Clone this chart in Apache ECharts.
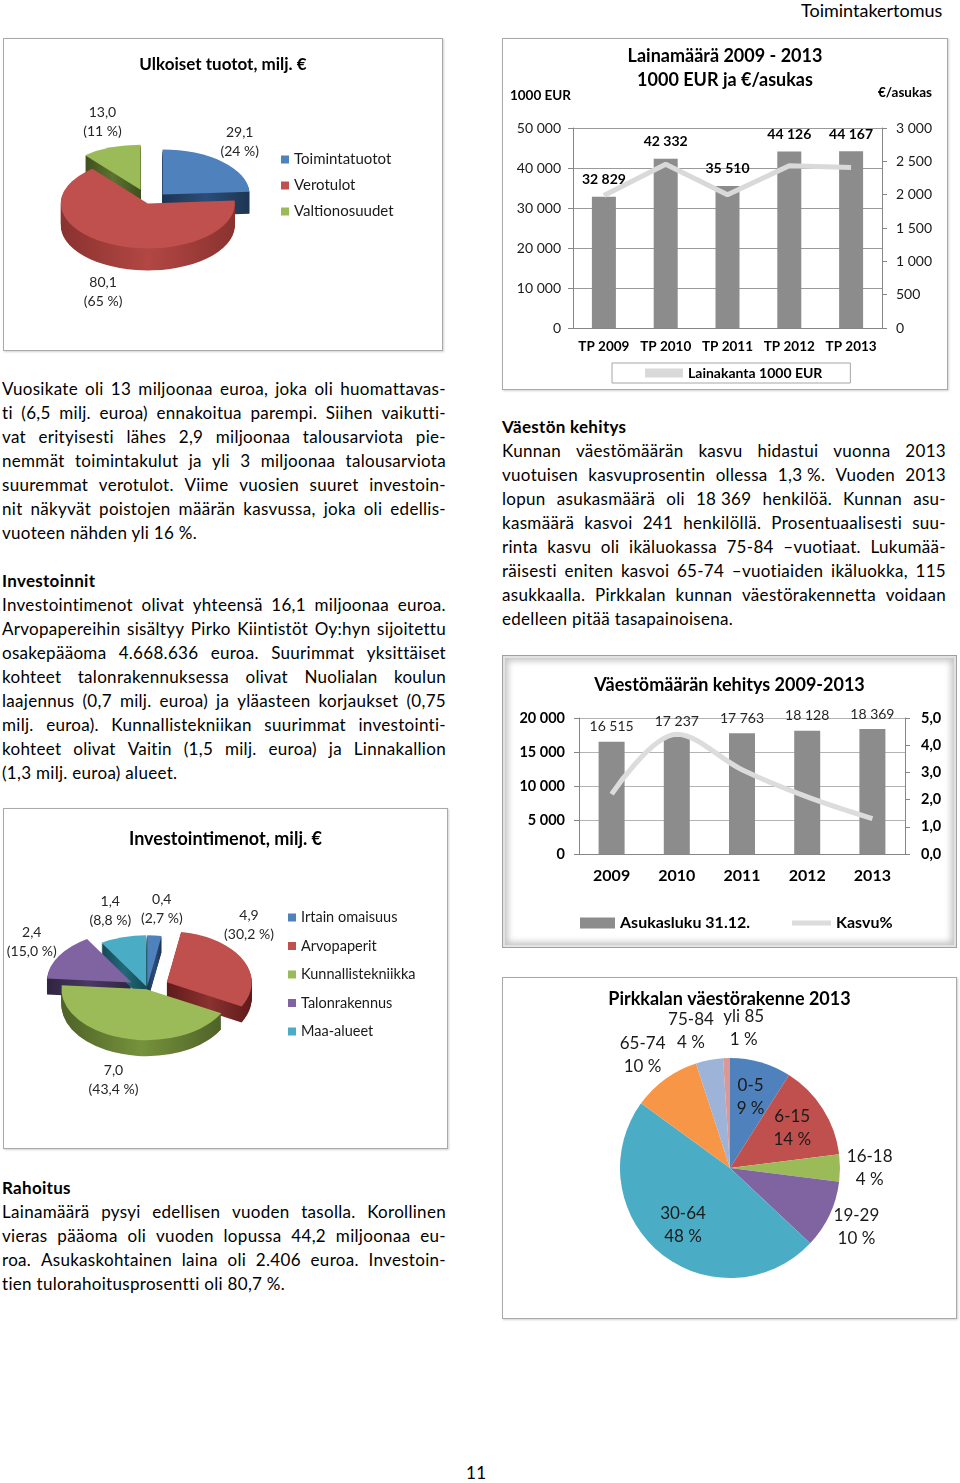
<!DOCTYPE html>
<html>
<head>
<meta charset="utf-8">
<script src="https://cdn.jsdelivr.net/npm/echarts@6/dist/echarts.min.js"></script>
<style>
  body { margin: 0; background: #fff; }
  #page { position: relative; width: 960px; height: 1483px; font-family: Lato, 'Open Sans', sans-serif; color: #000; overflow: hidden; }
  .box { position: absolute; box-sizing: border-box; border: 1px solid #a9a9a9; background: #fff; box-shadow: 1px 1px 2px rgba(0,0,0,.18); }
  .box .c { position: absolute; left: 0; top: 0; right: 0; bottom: 0; }
  .frame { border: 1px solid #a0a0a0; box-shadow: inset 0 0 0 2px #e2e2e2, inset 0 0 6px 5px #c6c6c6; }
  .txt { position: absolute; font-size: 17px; line-height: 24px; letter-spacing: 0.3px; }
  .txt .j { display: flex; justify-content: space-between; white-space: nowrap; height: 24px; }
  .txt .l { white-space: pre; height: 24px; }
  .txt .h { font-weight: bold; height: 24px; }
</style>
</head>
<body>
<div id="page">
  <div class="txt" style="left:801px;top:0;font-size:18px;line-height:20px;letter-spacing:0">Toimintakertomus</div>
  <div class="box" style="left:3px;top:38px;width:440px;height:313px"><div class="c" id="c1"></div></div>
  <div class="box" style="left:502px;top:38px;width:446px;height:352px"><div class="c" id="c2"></div></div>
  <div class="box frame" style="left:502px;top:655px;width:455px;height:293px"><div class="c" id="c3"></div></div>
  <div class="box" style="left:3px;top:808px;width:445px;height:341px"><div class="c" id="c4"></div></div>
  <div class="box" style="left:502px;top:977px;width:455px;height:342px"><div class="c" id="c5"></div></div>
  <div class="txt" style="left:466px;top:1461px">11</div>
</div>
<script>
// Ulkoiset tuotot, milj. €
const tuototNames = ['Toimintatuotot', 'Verotulot', 'Valtionosuudet'];
const tuototValues = [29.1, 80.1, 13.0];
const tuototPct = [24, 65, 11];

// Investointimenot, milj. €
const invNames = ['Irtain omaisuus', 'Arvopaperit', 'Kunnallistekniikka', 'Talonrakennus', 'Maa-alueet'];
const invValues = [0.4, 4.9, 7.0, 2.4, 1.4];
const invPct = [2.7, 30.2, 43.4, 15.0, 8.8];

// Lainamäärä 2009 - 2013
const lainaYears = ['TP 2009', 'TP 2010', 'TP 2011', 'TP 2012', 'TP 2013'];
const lainakanta = [32829, 42332, 35510, 44126, 44167];
const lainaPerAsukas = [1988, 2456, 1999, 2434, 2406];

// Väestömäärän kehitys 2009-2013
const vaestoYears = ['2009', '2010', '2011', '2012', '2013'];
const asukasluku = [16515, 17237, 17763, 18128, 18369];
const kasvu = [2.2, 4.4, 3.1, 2.1, 1.3];

// Pirkkalan väestörakenne 2013
const ikaNames = ['0-5', '6-15', '16-18', '19-29', '30-64', '65-74', '75-84', 'yli 85'];
const ikaPct = [9, 14, 4, 10, 48, 10, 4, 1];

const thou = v => String(v).replace(/\B(?=(\d{3})+(?!\d))/g, ' ');
const dec = (v, n) => v.toFixed(n).replace('.', ',');
const page = document.getElementById('page');

// tekstit
function block(left, top, heading, lines) {
  const d = document.createElement('div');
  d.className = 'txt';
  d.style.left = left + 'px';
  d.style.top = top + 'px';
  d.style.width = '444px';
  if (heading) {
    const h = document.createElement('div');
    h.className = 'h';
    h.textContent = heading;
    d.appendChild(h);
  }
  lines.forEach((ln, i) => {
    const r = document.createElement('div');
    if (i < lines.length - 1) {
      r.className = 'j';
      ln.split(' ').filter(w => w).forEach(w => {
        const sp = document.createElement('span');
        sp.textContent = w;
        r.appendChild(sp);
      });
    } else {
      r.className = 'l';
      r.textContent = ln;
    }
    d.appendChild(r);
  });
  page.appendChild(d);
}

block(2, 377, null, [
  'Vuosikate oli 13 miljoonaa euroa, joka oli huomattavas-',
  'ti (6,5 milj. euroa) ennakoitua parempi. Siihen vaikutti-',
  'vat erityisesti lähes 2,9 miljoonaa talousarviota pie-',
  'nemmät toimintakulut ja yli 3 miljoonaa talousarviota',
  'suuremmat verotulot. Viime vuosien suuret investoin-',
  'nit näkyvät poistojen määrän kasvussa, joka oli edellis-',
  'vuoteen nähden yli 16 %.'
]);
block(2, 569, 'Investoinnit', [
  'Investointimenot olivat yhteensä 16,1 miljoonaa euroa.',
  'Arvopapereihin sisältyy Pirko Kiintistöt Oy:hyn sijoitettu',
  'osakepääoma 4.668.636 euroa. Suurimmat yksittäiset',
  'kohteet talonrakennuksessa olivat Nuolialan koulun',
  'laajennus (0,7 milj. euroa) ja yläasteen korjaukset (0,75',
  'milj. euroa). Kunnallistekniikan suurimmat investointi-',
  'kohteet olivat Vaitin (1,5 milj. euroa) ja Linnakallion',
  '(1,3 milj. euroa) alueet.'
]);
block(502, 415, 'Väestön kehitys', [
  'Kunnan väestömäärän kasvu hidastui vuonna 2013',
  'vuotuisen kasvuprosentin ollessa 1,3\u00a0%. Vuoden 2013',
  'lopun asukasmäärä oli 18\u00a0369 henkilöä. Kunnan asu-',
  'kasmäärä kasvoi 241 henkilöllä. Prosentuaalisesti suu-',
  'rinta kasvu oli ikäluokassa 75-84 –vuotiaat. Lukumää-',
  'räisesti eniten kasvoi 65-74 –vuotiaiden ikäluokka, 115',
  'asukkaalla. Pirkkalan kunnan väestörakennetta voidaan',
  'edelleen pitää tasapainoisena.'
]);
block(2, 1176, 'Rahoitus', [
  'Lainamäärä pysyi edellisen vuoden tasolla. Korollinen',
  'vieras pääoma oli vuoden lopussa 44,2 miljoonaa eu-',
  'roa. Asukaskohtainen laina oli 2.406 euroa. Investoin-',
  'tien tulorahoitusprosentti oli 80,7 %.'
]);

// päällekkäiset selitteet erilleen vaakasuunnassa
function spread(labels) {
  for (let pass = 0; pass < 4; pass++) {
    for (let i = 0; i < labels.length; i++) {
      for (let j = i + 1; j < labels.length; j++) {
        const a = labels[i], b = labels[j];
        if (!a || !b) continue;
        const need = (a.w + b.w) / 2 + 6 - Math.abs(a.x - b.x);
        if (need > 0 && Math.abs(a.y - b.y) < (a.h + b.h) / 2) {
          const dir = a.x < b.x ? -1 : 1;
          a.x += dir * need / 2;
          b.x -= dir * need / 2;
        }
      }
    }
  }
}

// 3D-piirakka: sivut, kannet ja selite
function pie3d(id, cfg) {
  const chart = echarts.init(document.getElementById(id));
  const sum = cfg.pct.reduce((a, b) => a + b, 0);
  const ang = [];
  let acc = 0;
  cfg.pct.forEach(p => { ang.push([acc / sum * 360, (acc + p) / sum * 360]); acc += p; });
  const s = cfg.ry / cfg.rx;
  const rad = d => (d - 90) * Math.PI / 180;

  function sector(i, drop, fill) {
    const a = ang[i], m = rad((a[0] + a[1]) / 2), e = cfg.explode[i];
    return {
      type: 'sector',
      shape: {
        cx: cfg.cx + e * Math.cos(m), cy: cfg.cy + e * Math.sin(m) + drop / s,
        r: cfg.rx, startAngle: rad(a[0]), endAngle: rad(a[1]), clockwise: true
      },
      style: { fill: fill },
      originX: cfg.cx, originY: cfg.cy, scaleY: s
    };
  }

  // selitteet viipaleen reunan viereen
  const labels = cfg.values.map((v, i) => {
    const text = dec(v, 1) + '\n(' + dec(cfg.pct[i], cfg.pctDigits) + ' %)';
    const w = Math.max(...text.split('\n').map(t => t.length)) * 6.5, h = 38;
    const md = (ang[i][0] + ang[i][1]) / 2 * Math.PI / 180;
    const sn = Math.sin(md), cs = Math.cos(md), e = cfg.explode[i];
    const px = cfg.cx + e * sn + sn * cfg.rx;
    const py = cfg.cy - e * cs * s - cs * cfg.ry + (cs < 0 ? cfg.depth : 0);
    let x = px + sn * (w / 2 + 6);
    let y = py - cs * (h / 2 + 8);
    const maxX = cfg.legendLeft - 8 - w / 2;
    if (x > maxX) {
      y -= Math.sign(cs) * (x - maxX);
      x = maxX;
    }
    return { text, x, y, w, h };
  });
  spread(labels);

  chart.setOption({
    animation: false,
    textStyle: { fontFamily: 'Lato' },
    title: {
      text: cfg.title, left: 'center', top: cfg.titleTop,
      textStyle: { fontSize: cfg.titleSize, fontWeight: 'bold', color: '#000' }
    },
    legend: {
      orient: 'vertical', left: cfg.legendLeft, top: cfg.legendTop, icon: 'rect',
      itemWidth: 8, itemHeight: 8, itemGap: cfg.legendGap, selectedMode: false,
      textStyle: { fontSize: cfg.legendSize, color: '#1a1a1a' }
    },
    series: [
      {
        type: 'custom', coordinateSystem: 'none', data: cfg.values, z: 1, silent: true,
        renderItem: params => {
          const i = params.dataIndex;
          const fill = new echarts.graphic.LinearGradient(0, 0, 1, 0, [
            { offset: 0, color: cfg.sides[i][0] },
            { offset: 0.5, color: cfg.sides[i][1] },
            { offset: 1, color: cfg.sides[i][0] }
          ]);
          const kids = [];
          for (let k = cfg.depth; k >= 1; k--) kids.push(sector(i, k, fill));
          return { type: 'group', children: kids };
        }
      },
      {
        type: 'custom', coordinateSystem: 'none', data: cfg.values, z: 2, silent: true,
        renderItem: params => {
          const i = params.dataIndex, lb = labels[i];
          return {
            type: 'group',
            children: [
              sector(i, 0, cfg.colors[i]),
              {
                type: 'text',
                style: {
                  text: lb.text, x: lb.x, y: lb.y, textAlign: 'center', textVerticalAlign: 'middle',
                  font: '14px Lato', lineHeight: 19, fill: '#262626'
                }
              }
            ]
          };
        }
      },
      {
        type: 'pie', center: [-100, -100], radius: 4, silent: true, label: { show: false },
        data: cfg.names.map((n, i) => ({ name: n, value: cfg.values[i], itemStyle: { color: cfg.colors[i] } }))
      }
    ]
  });
}

pie3d('c1', {
  title: 'Ulkoiset tuotot, milj. €', titleTop: 12, titleSize: 17,
  names: tuototNames, values: tuototValues, pct: tuototPct, pctDigits: 0,
  colors: ['#4f81bd', '#c0504d', '#9bbb59'],
  sides: [['#1d3553', '#2c4d78'], ['#8a3230', '#b24743'], ['#3f4f1f', '#5d732f']],
  cx: 145, cy: 163, rx: 87, ry: 45, depth: 22, explode: [20, 3, 25],
  legendLeft: 272, legendTop: 108, legendGap: 11, legendSize: 15
});

pie3d('c4', {
  title: 'Investointimenot, milj. €', titleTop: 16, titleSize: 18,
  names: invNames, values: invValues, pct: invPct, pctDigits: 1,
  colors: ['#4f81bd', '#c0504d', '#9bbb59', '#8064a2', '#4bacc6'],
  sides: [['#1d3553', '#2c4d78'], ['#5e1b1a', '#8a3230'], ['#4f6228', '#76923c'], ['#2f2440', '#4a3a63'], ['#174955', '#22697a']],
  cx: 143, cy: 179, rx: 85, ry: 51, depth: 16, explode: [3, 22, 2, 18, 3],
  legendLeft: 279, legendTop: 96, legendGap: 13.5, legendSize: 14.5
});

// Lainamäärä
const c2 = echarts.init(document.getElementById('c2'));
c2.setOption({
  animation: false,
  textStyle: { fontFamily: 'Lato' },
  title: {
    text: 'Lainamäärä 2009 - 2013\n1000 EUR ja €/asukas', left: 'center', top: 0,
    textStyle: { fontSize: 18, fontWeight: 'bold', lineHeight: 24, color: '#000' }
  },
  grid: { left: 70, right: 65, top: 89, bottom: 61 },
  legend: {
    data: [{ name: 'Lainakanta 1000 EUR', icon: 'rect', itemStyle: { color: '#d9d9d9' } }],
    left: 109, top: 324, itemWidth: 38, itemHeight: 9, padding: [3, 28, 3, 33],
    borderColor: '#a6a6a6', borderWidth: 1, selectedMode: false,
    textStyle: { fontSize: 14, fontWeight: 'bold', color: '#000' }
  },
  xAxis: {
    type: 'category', data: lainaYears,
    axisLine: { lineStyle: { color: '#868686' } },
    axisTick: { length: 5, lineStyle: { color: '#868686' } },
    axisLabel: { interval: 0, fontSize: 13.5, fontWeight: 'bold', color: '#000', margin: 12 }
  },
  yAxis: [
    {
      type: 'value', min: 0, max: 50000, interval: 10000,
      name: '1000 EUR', nameLocation: 'end', nameGap: 32,
      nameTextStyle: { fontSize: 13.5, fontWeight: 'bold', color: '#000', align: 'right', verticalAlign: 'middle', padding: [0, 2, 0, 0] },
      axisLine: { show: true, lineStyle: { color: '#868686' } },
      axisTick: { show: true, length: 5, lineStyle: { color: '#868686' } },
      axisLabel: { fontSize: 14, color: '#1a1a1a', margin: 12, formatter: v => thou(v) },
      splitLine: { lineStyle: { color: '#9a9a9a' } }
    },
    {
      type: 'value', min: 0, max: 3000, interval: 500,
      name: '€/asukas', nameLocation: 'end', nameGap: 35,
      nameTextStyle: { fontSize: 13.5, fontWeight: 'bold', color: '#000', align: 'left', verticalAlign: 'middle', padding: [0, 0, 0, -4] },
      axisLine: { show: true, lineStyle: { color: '#868686' } },
      axisTick: { show: true, length: 5, lineStyle: { color: '#868686' } },
      axisLabel: { fontSize: 14, color: '#1a1a1a', margin: 14, formatter: v => thou(v) },
      splitLine: { show: false }
    }
  ],
  series: [
    {
      name: 'Lainakanta 1000 EUR', type: 'bar', data: lainakanta, barWidth: 24,
      itemStyle: { color: '#8c8c8c' },
      label: { show: true, position: 'top', distance: 10, fontSize: 14, fontWeight: 'bold', color: '#000', formatter: p => thou(p.value) }
    },
    {
      name: '€/asukas', type: 'line', yAxisIndex: 1, data: lainaPerAsukas, symbol: 'none',
      lineStyle: { color: '#d9d9d9', width: 5 }, itemStyle: { color: '#d9d9d9' }
    }
  ]
});

// Väestömäärän kehitys
const c3 = echarts.init(document.getElementById('c3'));
c3.setOption({
  animation: false,
  textStyle: { fontFamily: 'Lato' },
  title: {
    text: 'Väestömäärän kehitys 2009-2013', left: 'center', top: 15,
    textStyle: { fontSize: 18, fontWeight: 'bold', color: '#000' }
  },
  grid: { left: 76, right: 51, top: 62, bottom: 93 },
  legend: [
    {
      data: [{ name: 'Asukasluku 31.12.', icon: 'rect' }], left: 72, top: 254,
      itemWidth: 35, itemHeight: 11, selectedMode: false,
      textStyle: { fontSize: 16, fontWeight: 'bold', color: '#000' }
    },
    {
      data: [{ name: 'Kasvu%', icon: 'rect' }], left: 284, top: 254,
      itemWidth: 39, itemHeight: 5, selectedMode: false,
      textStyle: { fontSize: 16, fontWeight: 'bold', color: '#000' }
    }
  ],
  xAxis: {
    type: 'category', data: vaestoYears,
    axisLine: { lineStyle: { color: '#868686' } },
    axisTick: { length: 5, lineStyle: { color: '#868686' } },
    axisLabel: { interval: 0, fontSize: 16, fontWeight: 'bold', color: '#000', margin: 14 }
  },
  yAxis: [
    {
      type: 'value', min: 0, max: 20000, interval: 5000,
      axisLine: { show: true, lineStyle: { color: '#868686' } },
      axisTick: { show: true, length: 5, lineStyle: { color: '#868686' } },
      axisLabel: { fontSize: 14.5, fontWeight: 'bold', color: '#000', margin: 14, formatter: v => thou(v) },
      splitLine: { lineStyle: { color: '#b4b4b4' } }
    },
    {
      type: 'value', min: 0, max: 5, interval: 1,
      axisLine: { show: true, lineStyle: { color: '#868686' } },
      axisTick: { show: true, length: 5, lineStyle: { color: '#868686' } },
      axisLabel: { fontSize: 14.5, fontWeight: 'bold', color: '#000', margin: 16, formatter: v => dec(v, 1) },
      splitLine: { show: false }
    }
  ],
  series: [
    {
      name: 'Asukasluku 31.12.', type: 'bar', data: asukasluku, barWidth: 26,
      itemStyle: { color: '#8c8c8c' },
      label: { show: true, position: 'top', distance: 8, fontSize: 14, color: '#262626', formatter: p => thou(p.value) }
    },
    {
      name: 'Kasvu%', type: 'line', yAxisIndex: 1, data: kasvu, symbol: 'none', smooth: 0.35,
      lineStyle: { color: '#dcdcdc', width: 5 }, itemStyle: { color: '#dcdcdc' },
      label: { show: true, position: 'right', distance: 28, fontSize: 14, color: '#262626', formatter: p => dec(p.value, 1) }
    }
  ]
});

// Pirkkalan väestörakenne
const ikaInside = [true, true, false, false, true, false, false, false];
const c5 = echarts.init(document.getElementById('c5'));
const pieC = [227, 190], pieR = 110;
const ikaSum = ikaPct.reduce((a, b) => a + b, 0);
const ikaLabels = [];
ikaPct.reduce((acc, p, i) => {
  const a = (acc + p / 2) / ikaSum * 2 * Math.PI;
  const d = ikaInside[i] ? pieR * 0.67 : pieR * 1.27;
  const w = Math.max(ikaNames[i].length, String(p).length + 2) * 8.5;
  ikaLabels.push({ x: pieC[0] + Math.sin(a) * d, y: pieC[1] - Math.cos(a) * d, w: w, h: 46 });
  return acc + p;
}, 0);
spread(ikaLabels.map((lb, i) => ikaInside[i] ? null : lb));

c5.setOption({
  animation: false,
  textStyle: { fontFamily: 'Lato' },
  title: {
    text: 'Pirkkalan väestörakenne 2013', left: 'center', top: 7,
    textStyle: { fontSize: 18, fontWeight: 'bold', color: '#000' }
  },
  color: ['#4f81bd', '#c0504d', '#9bbb59', '#8064a2', '#4bacc6', '#f79646', '#9db3d8', '#d99795'],
  series: [{
    type: 'pie', center: pieC, radius: pieR, startAngle: 90, clockwise: true, silent: true,
    data: ikaNames.map((n, i) => ({ name: n, value: ikaPct[i] })),
    label: { show: true, fontSize: 17, lineHeight: 23, color: '#1a1a1a', formatter: p => p.name + '\n' + p.value + ' %' },
    labelLine: { show: false },
    labelLayout: p => {
      const lb = ikaLabels[p.dataIndex];
      return { x: lb.x, y: lb.y, align: 'center', verticalAlign: 'middle' };
    }
  }]
});
</script>
</body>
</html>
